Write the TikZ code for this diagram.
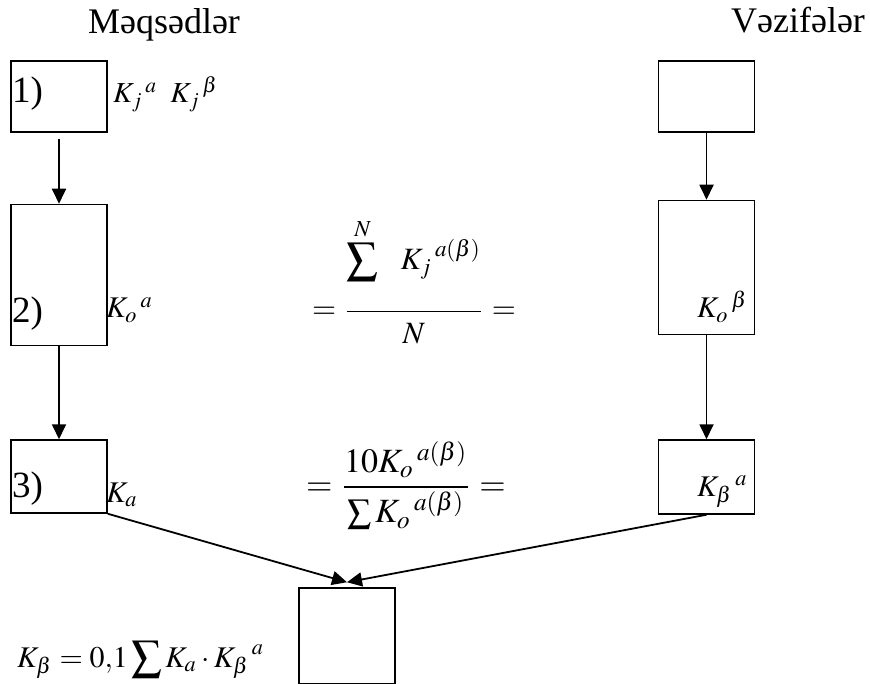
\documentclass[tikz,border=0pt]{standalone}
\usepackage{amsmath}
\usepackage{mathptmx}
\usepackage{graphicx}
\usepackage{fontspec}
\setmainfont{Liberation Serif}
\usetikzlibrary{arrows.meta, positioning, calc}

\begin{document}
\begin{tikzpicture}[x=1pt, y=-1pt, >={Triangle[length=15pt,width=14pt]}]
    \tikzstyle{box} = [rectangle, draw, line width=1.5pt, minimum width=96pt, inner sep=0pt]
    \tikzstyle{title} = [inner sep=0pt, anchor=base, font=\fontsize{36}{40}\selectfont]
    \tikzstyle{num} = [inner sep=0pt, anchor=base west, font=\fontsize{37}{40}\selectfont]
    \tikzstyle{lbl} = [inner sep=0pt, anchor=base west]
    \tikzstyle{formula} = [inner sep=0pt, anchor=base]
    \tikzstyle{arr} = [->, line width=1.8pt]

    \useasboundingbox (0,0) rectangle (870,684);

    \node [title] (goals) at (164,34) {Məqsədlər};
    \node [title] (tasks) at (798,33) {Vəzifələr};

    \node [box, minimum height=71pt] (m1) at (59,96.5) {};
    \node [box, minimum height=141pt, below=71pt of m1] (m2) {};
    \node [box, minimum height=73pt, below=93pt of m2] (m3) {};

    \node [box, minimum height=71pt] (v1) at (706.5,96.5) {};
    \node [box, minimum height=134pt, below=67pt of v1] (v2) {};
    \node [box, minimum height=74pt, below=104pt of v2] (v3) {};

    \node [box, minimum height=96pt] (res) at (347,636) {};
    \coordinate [above=5pt of res.north] (tip);

    \node [num] (l1) at (12,103) {1)};
    \node [lbl] (kj) at (113,103) {\scalebox{2.9}{${K_j}^{\,a}\;\;{K_j}^{\,\beta}$}};
    \node [num] (l2) at (12,323) {2)};
    \node [lbl] (koa) at (106,318) {\scalebox{3}{${K_o}^{\,a}$}};
    \node [num] (l3) at (12,497) {3)};
    \node [lbl] (ka) at (106,502) {\scalebox{3}{$K_a$}};
    \node [lbl] (kob) at (697,318) {\scalebox{3}{${K_o}^{\,\beta}$}};
    \node [lbl] (kba) at (697,496) {\scalebox{3}{${K_\beta}^{\,a}$}};

    \node [formula] (f1) at (414,319)
        {\scalebox{3.1}{$=\dfrac{\displaystyle\sum^{N}\hspace{6pt}{K_j}^{\,a(\beta)}\rule[-12pt]{0pt}{0pt}}{\rule{0pt}{9pt}N}=$}};
    \node [formula] (f2) at (406,495.5)
        {\scalebox{3.4}{$=\dfrac{10{K_o}^{\,a(\beta)}}{\sum {K_o}^{\,a(\beta)}}=$}};
    \node [lbl] (kb) at (17,667)
        {\scalebox{3}{$K_\beta = 0{,}1\displaystyle\sum K_a\cdot {K_\beta}^{\,a}$}};

    \draw [arr, shorten <=6pt] (m1) -- (m2);
    \draw [arr] (m2) -- (m3);
    \draw [arr] (v1) -- (v2);
    \draw [arr] (v2) -- (v3);
    \draw [arr] (m3.south east) -- (tip);
    \draw [arr] (v3.south) -- (tip);
\end{tikzpicture}
\end{document}
